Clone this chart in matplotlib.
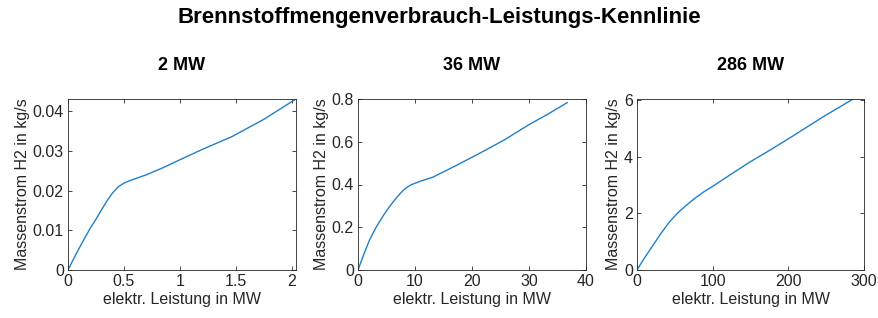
import matplotlib
matplotlib.use("Agg")
import matplotlib.pyplot as plt

plt.rcParams['font.family'] = ['Liberation Sans', 'DejaVu Sans']

suptitle = "Brennstoffmengenverbrauch-Leistungs-Kennlinie"
titles = ["2 MW", "36 MW", "286 MW"]
xlabel = "elektr. Leistung in MW"
ylabel = "Massenstrom H2 in kg/s"

p_2mw = [0, 0.05, 0.1, 0.15, 0.2, 0.25, 0.3, 0.35, 0.4, 0.45, 0.5, 0.55, 0.6, 0.7, 0.85,
         1.0, 1.2, 1.47, 1.75, 2.03]
m_2mw = [0, 0.0028, 0.0055, 0.0081, 0.0106, 0.0128, 0.0152, 0.0175, 0.0195, 0.0210, 0.0219, 0.0225,
         0.0230, 0.0240, 0.0258, 0.0278, 0.0304, 0.0337, 0.0380, 0.0430]

p_36mw = [0, 1.0, 2.05, 3.2, 4.4, 5.3, 6.1, 7.0, 7.9, 8.6, 9.35, 11.0, 13.2, 17.3, 21.9, 25.7, 30, 33.5, 36.7]
m_36mw = [0, 0.072, 0.142, 0.201, 0.253, 0.288, 0.316, 0.346, 0.372, 0.387, 0.399, 0.416, 0.435, 0.49,
          0.554, 0.609, 0.68, 0.732, 0.783]

p_286mw = [0, 10, 20, 31, 42, 53, 64, 71, 77.6, 88, 100, 125, 148.6, 175, 200, 246, 285]
m_286mw = [0, 0.43, 0.83, 1.27, 1.67, 2.0, 2.26, 2.42, 2.56, 2.76, 2.96, 3.40, 3.81, 4.23, 4.64, 5.42, 6.04]

series = [(p_2mw, m_2mw), (p_36mw, m_36mw), (p_286mw, m_286mw)]
xlims = [(0, 2.036), (0, 40), (0, 300)]
ylims = [(0, 0.0431), (0, 0.8), (0, 6.05)]
xticks = [[0, 0.5, 1, 1.5, 2], [0, 10, 20, 30, 40], [0, 100, 200, 300]]
xticklabels = [["0", "0.5", "1", "1.5", "2"], ["0", "10", "20", "30", "40"], ["0", "100", "200", "300"]]
yticks = [[0, 0.01, 0.02, 0.03, 0.04], [0, 0.2, 0.4, 0.6, 0.8], [0, 2, 4, 6]]
yticklabels = [["0", "0.01", "0.02", "0.03", "0.04"], ["0", "0.2", "0.4", "0.6", "0.8"], ["0", "2", "4", "6"]]

W, H = 879, 318
fig = plt.figure(figsize=(W / 100, H / 100), dpi=100)
lefts = [68, 358, 637]
widths = [228, 228, 227]
top, bottom = 99, 270
grey = (0.15, 0.15, 0.15)

for i in range(3):
    ax = fig.add_axes([lefts[i] / W, (H - bottom) / H, widths[i] / W, (bottom - top) / H])
    x, y = series[i]
    ax.plot(x, y, color='#1f80c8', linewidth=1.0)
    ax.set_xlim(*xlims[i])
    ax.set_ylim(*ylims[i])
    ax.set_xticks(xticks[i])
    ax.set_xticklabels(xticklabels[i])
    ax.set_yticks(yticks[i])
    ax.set_yticklabels(yticklabels[i])
    ax.tick_params(direction='in', length=3, width=0.6, colors=grey, labelsize=11.5,
                   top=True, right=True, pad=3)
    for s in ax.spines.values():
        s.set_color(grey)
        s.set_linewidth(0.6)
    ax.set_xlabel(xlabel, fontsize=11.5, color=grey, labelpad=2)
    ax.set_ylabel(ylabel, fontsize=11.5, color=grey, labelpad=2)
    ax.set_title(titles[i], fontsize=13, fontweight='bold', pad=21)

fig.text(0.5, 1 - 18 / H, suptitle, ha='center', va='center', fontsize=16, fontweight='bold')

fig.savefig("out.png", dpi=100)
